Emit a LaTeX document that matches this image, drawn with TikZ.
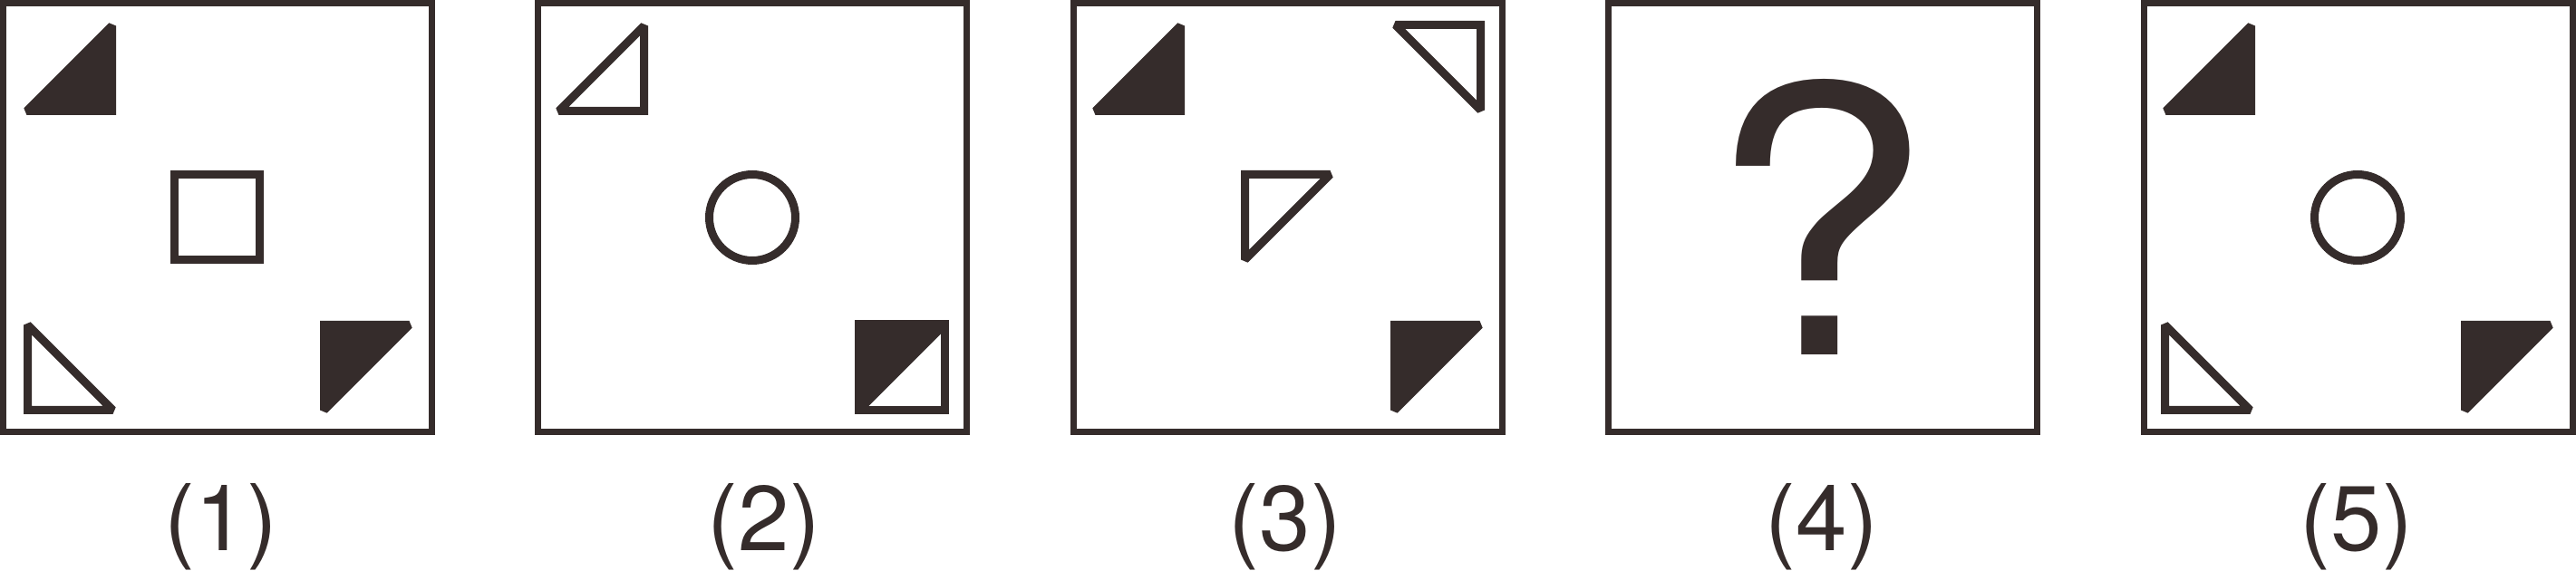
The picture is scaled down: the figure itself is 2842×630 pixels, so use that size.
\documentclass[tikz,border=0pt]{standalone}
\usepackage{fontspec}
\setmainfont{TeX Gyre Heros}
\definecolor{ink}{RGB}{53,44,43}
\begin{document}
\begin{tikzpicture}[x=0.25pt,y=-0.25pt,
  frame/.style={draw=ink,line width=1.75pt},
  figline/.style={draw=ink,line width=2.25pt,line join=miter,miter limit=2},
  figfill/.style={figline,fill=ink},
  lab/.style={text=ink,font={\fontsize{25.4pt}{30pt}\selectfont},inner sep=0pt,anchor=base},
  qmark/.style={text=ink,font={\fontsize{102.6pt}{110pt}\selectfont},inner sep=0pt,anchor=base}]
\useasboundingbox (0,0) rectangle (2842,630);
% panel 1
\begin{scope}[shift={(0,0)}]
  \draw[frame] (3.5,3.5) rectangle (476.5,476.5);
  \filldraw[figfill] (123.5,122.5) -- (29.5,122.5) -- (123.5,28.5) -- cycle;
  \draw[figline] (192.5,192.5) rectangle (286.5,286.5);
  \draw[figline] (30.5,452.5) -- (30.5,358.5) -- (124.5,452.5) -- cycle;
  \filldraw[figfill] (357.5,358.5) -- (451.5,358.5) -- (357.5,452.5) -- cycle;
\end{scope}
% panel 2
\begin{scope}[shift={(590,0)}]
  \draw[frame] (3.5,3.5) rectangle (476.5,476.5);
  \draw[figline] (120.5,122.5) -- (26.5,122.5) -- (120.5,28.5) -- cycle;
  \draw[figline] (240,240) circle (47.5);
  \fill[ink] (357.5,357.5) -- (452.5,357.5) -- (357.5,452.5) -- cycle;
  \draw[figline] (357.5,357.5) rectangle (452.5,452.5);
  \draw[figline] (357.5,452.5) -- (452.5,357.5);
\end{scope}
% panel 3
\begin{scope}[shift={(1181,0)}]
  \draw[frame] (3.5,3.5) rectangle (476.5,476.5);
  \filldraw[figfill] (121.5,122.5) -- (27.5,122.5) -- (121.5,28.5) -- cycle;
  \draw[figline] (452.5,27.5) -- (358.5,27.5) -- (452.5,121.5) -- cycle;
  \draw[figline] (192.5,192.5) -- (286.5,192.5) -- (192.5,286.5) -- cycle;
  \filldraw[figfill] (357.5,358.5) -- (451.5,358.5) -- (357.5,452.5) -- cycle;
\end{scope}
% panel 4
\begin{scope}[shift={(1771,0)}]
  \draw[frame] (3.5,3.5) rectangle (476.5,476.5);
  \node[qmark] (q) at (237,392) {\scalebox{1.08}[1]{?}};
\end{scope}
% panel 5
\begin{scope}[shift={(2362,0)}]
  \draw[frame] (3.5,3.5) rectangle (476.5,476.5);
  \filldraw[figfill] (121.5,122.5) -- (27.5,122.5) -- (121.5,28.5) -- cycle;
  \draw[figline] (239,240) circle (47.5);
  \draw[figline] (26.5,452.5) -- (26.5,358.5) -- (120.5,452.5) -- cycle;
  \filldraw[figfill] (357.5,358.5) -- (451.5,358.5) -- (357.5,452.5) -- cycle;
\end{scope}
% labels
\node[lab] (l1) at (244,608) {(1)};
\node[lab] (l2) at (843,608) {(2)};
\node[lab] (l3) at (1418,608) {(3)};
\node[lab] (l4) at (2010,608) {(4)};
\node[lab] (l5) at (2600,608) {(5)};
\end{tikzpicture}
\end{document}
